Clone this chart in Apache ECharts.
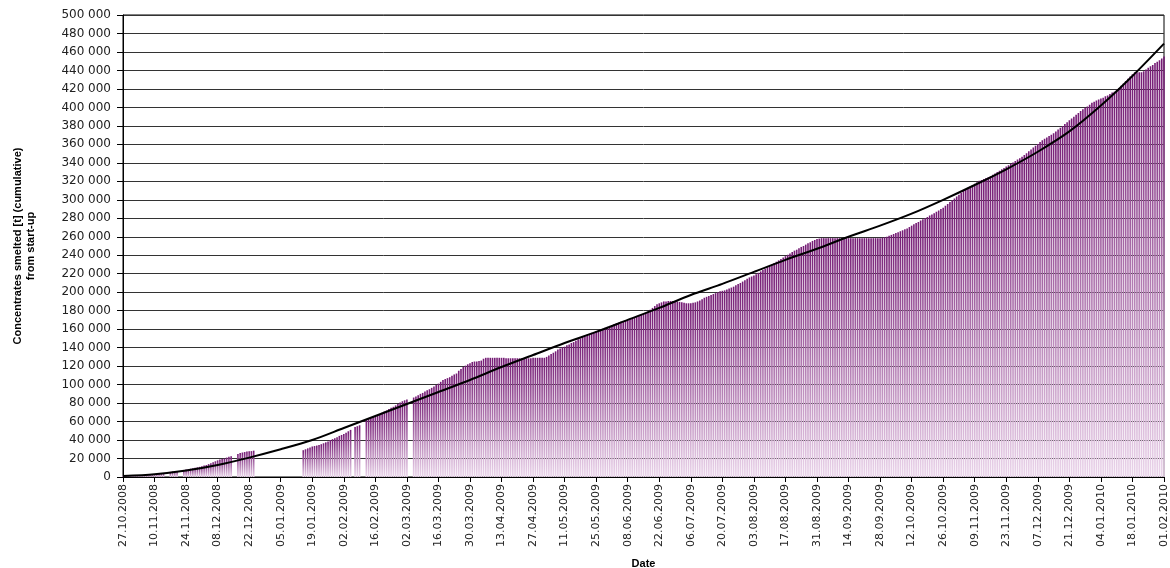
<!DOCTYPE html>
<html>
<head>
<meta charset="utf-8">
<script src="https://cdn.jsdelivr.net/npm/echarts@6/dist/echarts.min.js"></script>
<style>
  html, body { margin: 0; padding: 0; background: #fff; }
  #chart { width: 1170px; height: 568px; }
</style>
</head>
<body>
<div id="chart"></div>
<script>
// first day of the series, one bar per day up to 01.02.2010
const startDay = Date.UTC(2008, 9, 27)
const dayCount = 463

// cumulative tonnes per day (null = no bar), one row = 14 days from each axis label
const dailyTonnes = [
  1000, 1000, 1200, 1200, 1500, 1500, 1500, 1800, 1800, 2000, 2000, 2000, 2200, 2500,
  3000, 3200, 3500, 3800, 4000, null, null, 5500, 6000, 6200, 6500, null, null, 7500,
  8000, 8500, 9000, 9500, 10000, 10500, 11000, 11500, 12500, 13000, 14000, 15000, 16000, 17000,
  18000, 19000, 19500, 20000, 21000, 22000, 22500, null, null, 25000, 26000, 26500, 27000, 27500,
  28000, 28000, 28500, null, null, null, null, null, null, null, null, null, null, null,
  null, null, null, null, null, null, null, null, null, null, 29000, 30000, 31000, 32000,
  33000, 33500, 34000, 34500, 35500, 36500, 37500, 38500, 40000, 41000, 42000, 43000, 44500, 45500,
  46500, 48000, 49500, 51000, null, 54000, 55000, 56000, null, null, 62000, 63000, 64000, 65000,
  66000, 67000, 68000, 69500, 71000, 72000, 73500, 75000, 76000, 77500, 79000, 80500, 82000, 83000,
  84000, null, null, 86000, 87000, 88500, 90000, 91000, 92500, 94000, 95000, 96500, 98000, 99500,
  101000, 103000, 105000, 106000, 107000, 108000, 109500, 111000, 112000, 115000, 117000, 119000, 120500, 122000,
  123000, 124500, 125000, 125000, 125500, 126000, 128000, 129000, 129000, 129000, 129000, 129000, 129000, 129000,
  129000, 129000, 128500, 128500, 128500, 128500, 128500, 128500, 128500, 128500, 128500, 128500, 128500, 128500,
  129000, 129000, 129000, 129000, 129000, 129000, 130000, 131500, 133000, 134500, 136000, 138000, 139000, 140500,
  141000, 142500, 143500, 145000, 146000, 147500, 149000, 150000, 151500, 153000, 154000, 155000, 156000, 157000,
  158000, 158500, 159500, 160500, 161500, 162500, 163500, 164500, 165500, 166500, 167000, 168000, 168500, 169500,
  170000, 171000, 172000, 172500, 173500, 174500, 175500, 176500, 177500, 179000, 181000, 183000, 185000, 187000,
  188000, 189000, 190000, 190000, 190500, 190500, 190500, 190000, 190000, 189500, 189000, 188500, 188000, 188000,
  188000, 188500, 189000, 190000, 191000, 192500, 194000, 195000, 196000, 197000, 198000, 199000, 200000, 201000,
  201500, 202000, 203000, 204000, 205000, 206000, 207500, 209000, 210000, 211500, 213000, 214500, 216000, 217000,
  218000, 219500, 221000, 222500, 224000, 225500, 227000, 228500, 230000, 231500, 233000, 234500, 236000, 237500,
  239000, 240500, 242000, 243500, 245000, 246000, 247500, 249000, 250000, 251500, 253000, 254000, 255500, 256500,
  257500, 258000, 258500, 258500, 258500, 258500, 258500, 258500, 258500, 258500, 258500, 258500, 258500, 258500,
  258500, 258500, 258500, 258500, 258500, 258500, 258500, 258500, 258500, 258500, 258500, 258500, 258500, 258500,
  258500, 259000, 259500, 260000, 261000, 262000, 263000, 264000, 265000, 266000, 267000, 268000, 269000, 270500,
  272000, 273500, 275000, 276000, 277500, 279000, 280000, 281500, 283000, 284000, 285500, 287000, 288500, 290000,
  291500, 293500, 295500, 297500, 299500, 301500, 303500, 305500, 307500, 309500, 311000, 313000, 314500, 316000,
  317500, 319000, 320500, 321500, 322500, 323500, 324500, 325500, 327000, 328500, 330000, 331500, 333000, 334500,
  336000, 337500, 339000, 340500, 342000, 343500, 345000, 346500, 348500, 350500, 352500, 354500, 356500, 358500,
  360500, 362500, 364500, 366000, 367500, 369000, 370500, 372000, 374000, 376000, 378000, 380000, 382000, 384000,
  386000, 388000, 390000, 392000, 394000, 396000, 398000, 399500, 401000, 403000, 405000, 406000, 407500, 408500,
  409500, 410500, 412000, 413000, 414500, 416000, 417000, 419000, 421000, 423500, 426000, 428500, 431000, 433500,
  436000, 438000, 438000, 438000, 438000, 439000, 441000, 443000, 444500, 446000, 448000, 449500, 451000, 453000,
  455000
]

// trend line read at every labelled date (every 14th day)
const trendTonnes = [
  1000, 3000, 7000, 13000, 21000, 30000, 40000, 53000, 66000, 79000, 92000, 105000,
  119000, 132000, 145000, 157000, 170000, 183000, 197000, 209000, 222000, 235000,
  247000, 260000, 272000, 285000, 300000, 316000, 333000, 352000, 374000, 402000,
  434000, 469000
]
const labelStep = 14

const pad = n => (n < 10 ? '0' : '') + n
const dates = []
for (let i = 0; i < dayCount; i++) {
  const d = new Date(startDay + i * 86400000)
  dates.push(pad(d.getUTCDate()) + '.' + pad(d.getUTCMonth() + 1) + '.' + d.getUTCFullYear())
}

const trendData = trendTonnes.map((v, i) => [i * labelStep, v])

const fmt = v => String(v).replace(/\B(?=(\d{3})+(?!\d))/g, ' ')

const chart = echarts.init(document.getElementById('chart'), null, { renderer: 'canvas' })

chart.setOption({
  animation: false,
  backgroundColor: '#fff',
  grid: {
    left: 123,
    right: 6,
    top: 15,
    bottom: 91,
    outerBoundsMode: 'none',
    show: true,
    borderColor: '#000',
    borderWidth: 1,
    backgroundColor: 'transparent'
  },
  xAxis: {
    type: 'category',
    data: dates,
    boundaryGap: false,
    name: 'Date',
    nameLocation: 'middle',
    nameGap: 81,
    nameTextStyle: {
      fontFamily: 'Liberation Sans, Arial, sans-serif',
      fontWeight: 'bold',
      fontSize: 11,
      color: '#000'
    },
    axisLine: { lineStyle: { color: '#000', width: 1 } },
    axisTick: { interval: labelStep - 1, length: 5, lineStyle: { color: '#000' } },
    axisLabel: {
      interval: labelStep - 1,
      rotate: 90,
      margin: 7,
      fontFamily: 'DejaVu Sans, sans-serif',
      fontSize: 11,
      color: '#222'
    },
    splitLine: { show: false }
  },
  yAxis: {
    type: 'value',
    min: 0,
    max: 500000,
    interval: 20000,
    name: 'Concentrates smelted [t] (cumulative)\nfrom start-up',
    nameLocation: 'middle',
    nameRotate: 90,
    nameGap: 86,
    nameTextStyle: {
      fontFamily: 'Liberation Sans Narrow, Liberation Sans, Arial, sans-serif',
      fontWeight: 'bold',
      fontSize: 11,
      lineHeight: 13,
      color: '#000'
    },
    axisLine: { show: true, lineStyle: { color: '#000', width: 1 } },
    axisTick: { show: true, length: 6, lineStyle: { color: '#000' } },
    axisLabel: {
      margin: 12,
      fontFamily: 'DejaVu Sans, sans-serif',
      fontSize: 12,
      color: '#222',
      formatter: fmt
    },
    splitLine: { lineStyle: { color: '#333', width: 1 } }
  },
  series: [
    {
      name: 'Concentrates smelted',
      type: 'bar',
      data: dailyTonnes,
      barWidth: 1.6,
      itemStyle: {
        color: new echarts.graphic.LinearGradient(0, 0, 0, 1, [
          { offset: 0, color: '#741a74' },
          { offset: 1, color: '#ead4ea' }
        ])
      }
    },
    {
      name: 'Trend',
      type: 'line',
      data: trendData,
      smooth: 0.3,
      symbol: 'none',
      lineStyle: { color: '#000', width: 2 },
      z: 5
    }
  ]
})
</script>
</body>
</html>
